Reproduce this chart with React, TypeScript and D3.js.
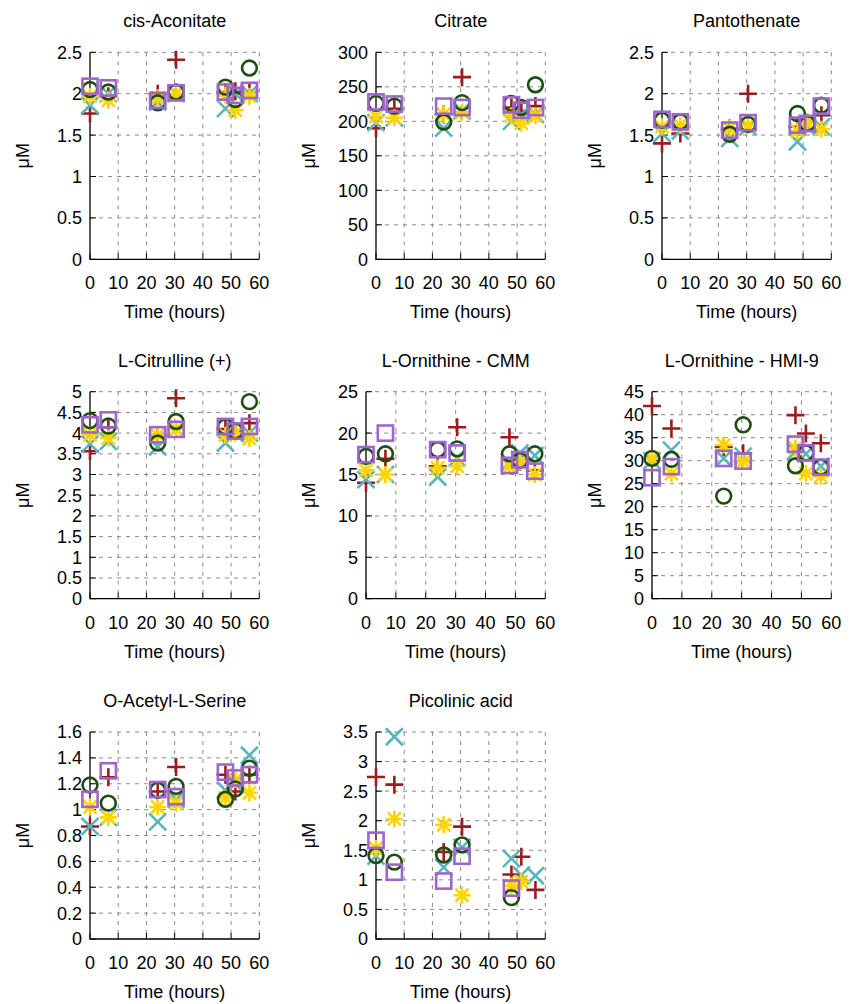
import React from "react";
import * as d3 from "d3";

// ---------- data ----------
const TIMES = [0, 6.5, 24, 30.5, 48, 51.5, 56.5];
const X_TICKS = [0, 10, 20, 30, 40, 50, 60];

const PANEL_TITLES = [
  "cis-Aconitate",
  "Citrate",
  "Pantothenate",
  "L-Citrulline (+)",
  "L-Ornithine - CMM",
  "L-Ornithine - HMI-9",
  "O-Acetyl-L-Serine",
  "Picolinic acid",
];
const Y_MAX = [2.5, 300, 2.5, 5, 25, 45, 1.6, 3.5];
const Y_STEP = [0.5, 50, 0.5, 0.5, 5, 5, 0.2, 0.5];

// series order: red +, teal x, yellow *, green circle, purple square
const CIS_ACONITATE = [
  [1.76, 1.97, 2.0, 2.41, 2.02, 2.03, 2.03],
  [1.86, 2.0, 1.9, 2.0, 1.82, 2.0, 2.0],
  [1.97, 1.92, 1.95, 2.0, 1.98, 1.8, 1.97],
  [2.05, 2.02, 1.89, 2.02, 2.08, 1.93, 2.31],
  [2.09, 2.07, 1.92, 2.01, 2.02, 1.98, 2.04],
];
const CITRATE = [
  [190, 218, 210, 264, 220, 215, 222],
  [198, 205, 190, 215, 200, 210, 210],
  [207, 205, 210, 213, 208, 197, 208],
  [226, 222, 199, 227, 226, 220, 253],
  [228, 225, 222, 220, 224, 216, 220],
];
const PANTOTHENATE = [
  [1.4, 1.52, 1.58, 2.0, 1.6, 1.65, 1.74],
  [1.52, 1.55, 1.46, 1.6, 1.42, 1.6, 1.6],
  [1.6, 1.62, 1.58, 1.62, 1.55, 1.65, 1.57],
  [1.68, 1.66, 1.51, 1.63, 1.76, 1.64, 1.86],
  [1.69, 1.66, 1.56, 1.65, 1.62, 1.64, 1.85],
];
const CITRULLINE = [
  [3.56, 4.14, 3.95, 4.84, 4.1, 4.05, 4.24],
  [3.74, 3.8, 3.67, 4.1, 3.76, 4.0, 4.0],
  [3.96, 3.88, 3.95, 4.1, 3.95, 4.0, 3.87],
  [4.3, 4.17, 3.76, 4.28, 4.15, 4.05, 4.76],
  [4.2, 4.32, 3.96, 4.09, 4.16, 4.05, 4.16],
];
const ORNITHINE_CMM = [
  [14.0, 16.9, 16.0, 20.7, 19.5, 16.5, 15.5],
  [14.4, 15.0, 14.7, 17.0, 16.5, 17.6, 17.3],
  [15.5, 15.0, 15.8, 16.0, 16.0, 16.5, 15.0],
  [17.2, 17.5, 18.0, 18.1, 17.5, 16.7, 17.5],
  [17.4, 20.0, 18.0, 17.6, 16.1, 16.8, 15.4],
];
const ORNITHINE_HMI9 = [
  [41.9, 37.0, 33.0, 31.6, 39.9, 35.9, 33.8],
  [30.0, 32.3, 30.5, 31.0, 32.0, 31.5, 28.8],
  [30.5, 27.2, 33.4, 29.8, 32.7, 27.2, 26.6],
  [30.5, 30.3, 22.3, 37.8, 28.9, 31.7, 28.6],
  [26.3, 28.7, 30.5, 29.9, 33.6, 31.7, 28.6],
];
const ACETYL_SERINE = [
  [0.87, 1.25, 1.14, 1.33, 1.27, 1.14, 1.27],
  [0.87, 0.94, 0.905, 1.08, 1.15, 1.2, 1.42],
  [1.02, 0.94, 1.02, 1.05, 1.09, 1.23, 1.13],
  [1.19, 1.05, 1.15, 1.18, 1.08, 1.16, 1.32],
  [1.08, 1.3, 1.155, 1.1, 1.29, 1.245, 1.27],
];
const PICOLINIC = [
  [2.74, 2.61, 1.47, 1.9, 1.09, 1.39, 0.83],
  [1.4, 3.42, 1.21, 1.55, 1.36, 1.08, 1.07],
  [1.53, 2.03, 1.93, 0.74, 0.9, 0.97, null],
  [1.41, 1.3, 1.42, 1.59, 0.7, null, null],
  [1.67, 1.13, 0.98, 1.4, 0.86, null, null],
];

const PANEL_DATA = [
  CIS_ACONITATE,
  CITRATE,
  PANTOTHENATE,
  CITRULLINE,
  ORNITHINE_CMM,
  ORNITHINE_HMI9,
  ACETYL_SERINE,
  PICOLINIC,
];

const SERIES_COLORS = ["#9b1c1c", "#5ab4bd", "#ffd400", "#1f4d12", "#9e66cc"];
const SERIES_MARKERS = ["plus", "cross", "star", "circle", "square"];

// ---------- layout ----------
const W = 858;
const H = 1004;
const CELL_W = 286;
const ROW_TOPS = [52.3, 391.7, 732];
const PLOT_H = 207;
const FONT = "'Liberation Sans', Arial, Helvetica, sans-serif";
const FS = 18;
const fmt = d3.format("~g");

function Marker({ type, x, y, color }: { type: string; x: number; y: number; color: string }) {
  const sw = 2.6;
  const common = { stroke: color, strokeWidth: sw, fill: "none" };
  if (type === "plus") {
    return <path d={`M${x - 9},${y}H${x + 9}M${x},${y - 9}V${y + 9}`} {...common} />;
  }
  if (type === "cross") {
    const s = 8.5;
    return <path d={`M${x - s},${y - s}L${x + s},${y + s}M${x - s},${y + s}L${x + s},${y - s}`} {...common} />;
  }
  if (type === "star") {
    const s = 8.5;
    const d = 6.5;
    return (
      <path
        d={`M${x - s},${y}H${x + s}M${x},${y - s}V${y + s}M${x - d},${y - d}L${x + d},${y + d}M${x - d},${y + d}L${x + d},${y - d}`}
        {...common}
      />
    );
  }
  if (type === "circle") {
    return <circle cx={x} cy={y} r={7.4} {...common} />;
  }
  return <rect x={x - 7.6} y={y - 7.6} width={15.2} height={15.2} {...common} />;
}

function Panel({ idx }: { idx: number }) {
  const col = idx % 3;
  const row = Math.floor(idx / 3);
  const cellX = col * CELL_W;
  const yTicks = d3.range(0, Y_MAX[idx] + Y_STEP[idx] / 2, Y_STEP[idx]).map((v) => +v.toFixed(6));
  const maxChars = d3.max(yTicks, (t) => fmt(t).length) as number;
  const left = cellX + 60 + 10 * maxChars;
  const right = cellX + 259.3;
  const top = ROW_TOPS[row];
  const bottom = top + PLOT_H;

  const x = d3.scaleLinear().domain([0, 60]).range([left, right]);
  const y = d3.scaleLinear().domain([0, Y_MAX[idx]]).range([bottom, top]);
  const series = PANEL_DATA[idx];

  return (
    <g>
      {/* grid */}
      {X_TICKS.filter((t) => t > 0).map((t) => (
        <line key={"gx" + t} x1={x(t)} x2={x(t)} y1={top} y2={bottom} stroke="#8a8a8a" strokeWidth={1} strokeDasharray="4,5" />
      ))}
      {yTicks.filter((t) => t > 0).map((t) => (
        <line key={"gy" + t} x1={left} x2={right} y1={y(t)} y2={y(t)} stroke="#8a8a8a" strokeWidth={1} strokeDasharray="4,5" />
      ))}
      {/* ticks */}
      {X_TICKS.map((t) => (
        <line key={"tx" + t} x1={x(t)} x2={x(t)} y1={bottom} y2={bottom - 6} stroke="#000" strokeWidth={1} />
      ))}
      {yTicks.map((t) => (
        <line key={"ty" + t} x1={left} x2={left + 6} y1={y(t)} y2={y(t)} stroke="#000" strokeWidth={1} />
      ))}
      {/* border */}
      <path d={`M${left},${top}V${bottom}H${right}`} fill="none" stroke="#000" strokeWidth={1.3} />
      {/* tick labels */}
      {X_TICKS.map((t) => (
        <text key={"lx" + t} x={x(t)} y={bottom + 30} textAnchor="middle" fontSize={FS} fontFamily={FONT}>
          {fmt(t)}
        </text>
      ))}
      {yTicks.map((t) => (
        <text key={"ly" + t} x={left - 8} y={y(t)} dy="0.36em" textAnchor="end" fontSize={FS} fontFamily={FONT}>
          {fmt(t)}
        </text>
      ))}
      {/* title */}
      <text x={(left + right) / 2} y={top - 25} textAnchor="middle" fontSize={FS} fontFamily={FONT}>
        {PANEL_TITLES[idx]}
      </text>
      {/* axis labels */}
      <text x={(left + right) / 2} y={bottom + 59} textAnchor="middle" fontSize={FS} fontFamily={FONT}>
        Time (hours)
      </text>
      <text
        transform={`translate(${cellX + 23},${(top + bottom) / 2}) rotate(-90)`}
        dy="0.35em"
        textAnchor="middle"
        fontSize={FS}
        fontFamily={FONT}
      >
        μM
      </text>
      {/* points */}
      {series.map((vals, si) => (
        <g key={"s" + si}>
          {vals.map((v, i) =>
            v === null ? null : (
              <Marker key={i} type={SERIES_MARKERS[si]} x={x(TIMES[i])} y={y(v)} color={SERIES_COLORS[si]} />
            )
          )}
        </g>
      ))}
    </g>
  );
}

export default function App() {
  return (
    <svg
      width={W}
      height={H}
      viewBox={`0 0 ${W} ${H}`}
      style={{ position: "absolute", left: 0, top: 0, background: "#fff" }}
    >
      <rect x={0} y={0} width={W} height={H} fill="#fff" />
      {PANEL_TITLES.map((_, i) => (
        <Panel key={i} idx={i} />
      ))}
    </svg>
  );
}
